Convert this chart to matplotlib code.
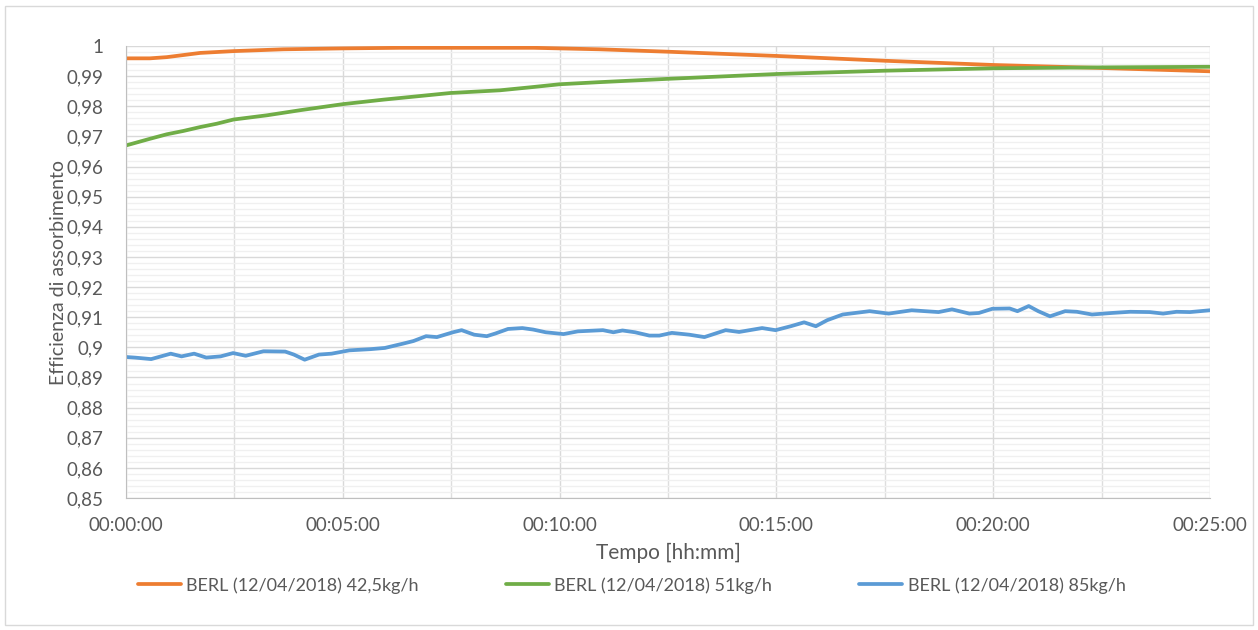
import matplotlib.pyplot as plt
from matplotlib.ticker import MultipleLocator, FuncFormatter
from matplotlib.patches import Rectangle

# time in minutes
t_orange = [0, 0.55, 0.94, 1.71, 2.48, 3.63, 5.0, 6.32, 7.48, 9.4, 10.0, 10.92,
            12.5, 15.0, 17.5, 20.0, 22.5, 25.0]
v_orange = [0.9959, 0.9959, 0.9963, 0.9977, 0.9983, 0.9989, 0.9992, 0.9994, 0.9994,
            0.9994, 0.9992, 0.9989, 0.9981, 0.9967, 0.9951, 0.9937, 0.9927, 0.9916]

t_green = [0, 0.15, 0.55, 0.94, 1.32, 1.71, 2.09, 2.48, 3.25, 4.02, 5.0, 5.94, 6.71,
           7.48, 8.63, 9.4, 10.0, 10.92, 12.5, 15.0, 17.5, 20.0, 22.5, 25.0]
v_green = [0.9670, 0.9676, 0.9692, 0.9707, 0.9718, 0.9731, 0.9742, 0.9756, 0.9770,
           0.9787, 0.9807, 0.9822, 0.9833, 0.9844, 0.9853, 0.9864, 0.9873, 0.9880,
           0.9891, 0.9907, 0.9918, 0.9926, 0.9929, 0.9931]

t_blue = [0, 0.2, 0.58, 1.03, 1.28, 1.57, 1.85, 2.18, 2.47, 2.76, 3.17, 3.67, 3.87,
          4.12, 4.45, 4.74, 5.15, 5.64, 5.97, 6.38, 6.63, 6.92, 7.17, 7.54, 7.74,
          8.03, 8.32, 8.52, 8.81, 9.14, 9.39, 9.68, 10.09, 10.42, 11.0, 11.24, 11.45,
          11.74, 12.07, 12.3, 12.59, 12.99, 13.34, 13.83, 14.14, 14.67, 14.98, 15.33,
          15.64, 15.91, 16.17, 16.53, 17.15, 17.59, 18.12, 18.74, 19.05, 19.45, 19.67,
          19.98, 20.38, 20.56, 20.82, 21.04, 21.31, 21.66, 21.93, 22.28, 22.73, 23.16,
          23.61, 23.92, 24.23, 24.54, 25.0]
v_blue = [0.8968, 0.8966, 0.8961, 0.8979, 0.8970, 0.8979, 0.8966, 0.8970, 0.8981,
          0.8972, 0.8987, 0.8986, 0.8976, 0.8959, 0.8976, 0.8979, 0.8990, 0.8994,
          0.8998, 0.9012, 0.9021, 0.9037, 0.9034, 0.9050, 0.9057, 0.9042, 0.9037,
          0.9046, 0.9061, 0.9064, 0.9059, 0.9050, 0.9044, 0.9053, 0.9057, 0.9050,
          0.9056, 0.9050, 0.9039, 0.9039, 0.9048, 0.9042, 0.9034, 0.9057, 0.9051,
          0.9064, 0.9057, 0.9070, 0.9083, 0.9070, 0.9090, 0.9109, 0.9120, 0.9112,
          0.9123, 0.9117, 0.9126, 0.9112, 0.9114, 0.9128, 0.9129, 0.9120, 0.9137,
          0.9120, 0.9103, 0.9120, 0.9118, 0.9109, 0.9114, 0.9118, 0.9117, 0.9112,
          0.9118, 0.9117, 0.9123]

labels = ["BERL (12/04/2018) 42,5kg/h", "BERL (12/04/2018) 51kg/h",
          "BERL (12/04/2018) 85kg/h"]

plt.rcParams["font.family"] = ["Lato", "DejaVu Sans"]
grey = "#595959"

fig = plt.figure(figsize=(12.58, 6.30), dpi=100)
fig.patches.append(Rectangle((0.004, 0.008), 0.992, 0.982, transform=fig.transFigure,
                             fill=False, edgecolor="#d9d9d9", linewidth=1))
ax = fig.add_axes([0.1002, 0.2095, 0.8616, 0.7175])

ax.plot(t_orange, v_orange, c="#ED7D31", lw=2.7, label=labels[0], solid_capstyle="round")
ax.plot(t_green, v_green, c="#70AD47", lw=2.7, label=labels[1], solid_capstyle="round")
ax.plot(t_blue, v_blue, c="#5B9BD5", lw=2.7, label=labels[2], solid_capstyle="round")

ax.set_xlim(0, 25)
ax.set_ylim(0.85, 1.0)
ax.xaxis.set_major_locator(MultipleLocator(5))
ax.xaxis.set_minor_locator(MultipleLocator(2.5))
ax.yaxis.set_major_locator(MultipleLocator(0.01))
ax.yaxis.set_minor_locator(MultipleLocator(0.002))
ax.xaxis.set_major_formatter(FuncFormatter(lambda x, p: "00:%02d:00" % round(x)))
# Excel "general" format: comma decimals, no trailing zeros
ax.yaxis.set_major_formatter(FuncFormatter(lambda y, p: ("%g" % round(y, 2)).replace(".", ",")))

ax.grid(which="major", color="#d9d9d9", lw=1)
ax.grid(which="minor", axis="y", color="#f0f0f0", lw=1)
ax.grid(which="minor", axis="x", color="#dedede", lw=1)
ax.set_axisbelow(True)
for s in ["top", "right"]:
    ax.spines[s].set_visible(False)
for s in ["left", "bottom"]:
    ax.spines[s].set_color("#bfbfbf")
ax.tick_params(axis="both", which="both", length=0, labelsize=13.5, colors=grey)
ax.tick_params(axis="x", pad=14)
ax.tick_params(axis="y", pad=16)

ax.set_xlabel("Tempo [hh:mm]", fontsize=15, color=grey, labelpad=6)
ax.set_ylabel("Efficienza di assorbimento", fontsize=14, color=grey, labelpad=0)

fig.legend(loc="center", bbox_to_anchor=(0.502, 0.071), ncol=3, frameon=False,
           fontsize=13, handlelength=2.4, handletextpad=0.3, columnspacing=4.8,
           labelcolor=grey)

plt.savefig("out.png")
